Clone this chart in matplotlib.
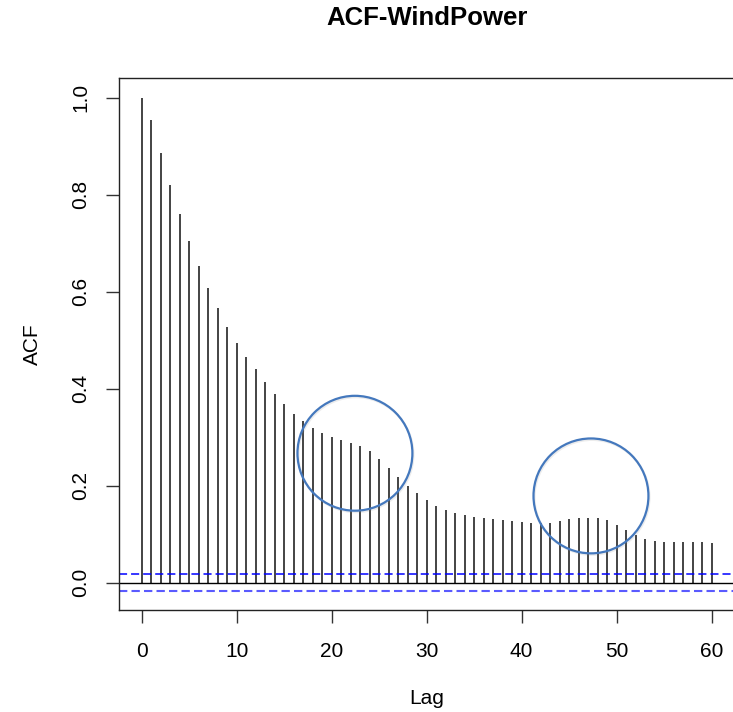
import matplotlib
matplotlib.use("Agg")
import matplotlib.pyplot as plt
import matplotlib.patheffects as pe
from matplotlib.patches import Ellipse

# ACF values, lags 0..60
lags = list(range(61))
acf = [1.000, 0.954, 0.887, 0.821, 0.760, 0.704, 0.654, 0.607, 0.566, 0.528,
       0.495, 0.466, 0.440, 0.413, 0.389, 0.368, 0.349, 0.333, 0.320, 0.309,
       0.301, 0.294, 0.289, 0.282, 0.272, 0.255, 0.236, 0.217, 0.199, 0.184,
       0.171, 0.159, 0.150, 0.143, 0.139, 0.136, 0.134, 0.131, 0.129, 0.127,
       0.125, 0.123, 0.124, 0.124, 0.127, 0.131, 0.133, 0.134, 0.133, 0.130,
       0.118, 0.109, 0.098, 0.091, 0.087, 0.084, 0.083, 0.083, 0.084, 0.083,
       0.082]
conf = 0.0172
xticks = [0, 10, 20, 30, 40, 50, 60]
yticks = [0.0, 0.2, 0.4, 0.6, 0.8, 1.0]

# highlight circles (center lag, center acf)
highlights = [(22.45, 0.267), (47.3, 0.179)]

plt.rcParams['font.family'] = ['Liberation Sans', 'DejaVu Sans']

fig = plt.figure(figsize=(7.33, 7.12), dpi=100)
ax = fig.add_axes([0.1622, 0.1433, 0.8397, 0.7472])

ax.vlines(lags, 0, acf, color='#111111', lw=1.1)
ax.axhline(0, color='black', lw=1.0)
ax.axhline(conf, color='#0000ff', lw=1.1, ls=(0, (5.3, 2.6)))
ax.axhline(-conf, color='#5a5aff', lw=1.5, ls=(0, (4, 2)))

ax.set_xlim(-2.4, 62.4)
ax.set_ylim(-0.0563, 1.0412)
ax.set_xticks(xticks)
ax.set_yticks(yticks)
ax.set_yticklabels([f"{v:.1f}" for v in yticks], rotation=90, va='center')
ax.tick_params(axis='both', length=9.4, width=1.0, labelsize=15, color='#333333')
ax.tick_params(axis='x', pad=14)
ax.tick_params(axis='y', pad=11)
for s in ax.spines.values():
    s.set_linewidth(1.0)
    s.set_color('#222222')

ax.set_xlabel("Lag", fontsize=15, labelpad=20)
ax.set_ylabel("ACF", fontsize=15, labelpad=21)
fig.text(0.5825, 0.975, "ACF-WindPower", ha='center', va='center',
         fontsize=18.5, fontweight='bold')

for cx, cy in highlights:
    e = Ellipse((cx, cy), 12.1, 0.237, fill=False, edgecolor='#4478bd',
                lw=1.6, zorder=5, clip_on=False)
    e.set_path_effects([pe.SimpleLineShadow(offset=(0.7, -1), shadow_color='gray', alpha=0.15),
                        pe.Normal()])
    ax.add_patch(e)

fig.savefig("out.png", dpi=100)
